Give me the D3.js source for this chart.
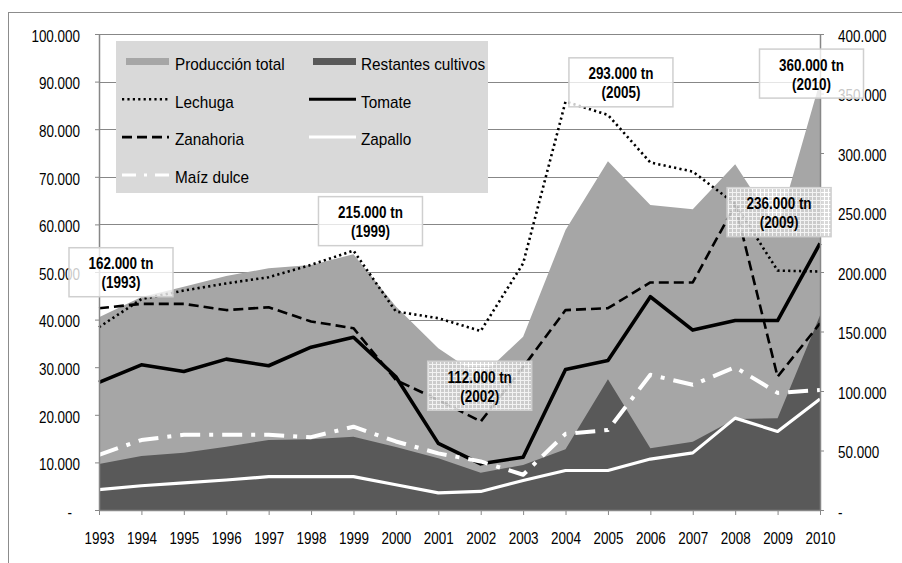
<!DOCTYPE html>
<html><head><meta charset="utf-8">
<script src="https://cdn.jsdelivr.net/npm/d3@7"></script>
<style>
html,body{margin:0;padding:0;background:#fff;}
svg{display:block;font-family:"Liberation Sans",Arial,sans-serif;}
</style></head>
<body><svg id="chart" width="902" height="563"></svg>
<script>
// ---------- data ----------
const years = [1993,1994,1995,1996,1997,1998,1999,2000,2001,2002,2003,2004,2005,2006,2007,2008,2009,2010];
const produccionTotal = [162000,179000,187700,196600,203100,205900,215000,171000,136000,112000,145600,235300,293000,256300,252700,290500,236000,360000];
const restantesCultivos = [38700,45400,48200,53200,58800,59400,61600,53000,43400,31400,37800,51000,109800,51800,57400,76500,77000,163500];
const lechuga   = [38400,44300,46100,47600,48900,51500,54500,41700,40300,37600,51800,85800,83000,73000,71100,64300,50300,50100];
const tomate    = [26800,30500,29100,31700,30300,34200,36300,28000,14000,9700,11100,29500,31400,44800,37800,39800,39800,56000];
const zanahoria = [42400,43300,43300,42000,42600,39600,38200,27300,23100,18600,30000,42000,42400,47800,47800,64100,28000,39200];
const zapallo   = [4300,5100,5700,6300,7000,7000,7000,5300,3600,3900,6200,8300,8300,10700,12000,19300,16500,23300];
const maizDulce = [11600,14700,15800,15800,15800,15300,17500,14400,11900,10200,7400,16000,16800,28400,26300,30000,24600,25200];
const leftTicks  = [0,10000,20000,30000,40000,50000,60000,70000,80000,90000,100000];
const rightTicks = [0,50000,100000,150000,200000,250000,300000,350000,400000];
const annotYears = [1993,1999,2002,2005,2009,2010];
const annotLabels = ["162.000 tn","215.000 tn","112.000 tn","293.000 tn","236.000 tn","360.000 tn"];

// ---------- layout ----------
const svg = d3.select("#chart");
const FONT = "'Liberation Sans',Arial,sans-serif";
const L = 99, R = 820, T = 34, B = 510;
const x  = d3.scaleLinear().domain([1993,2010]).range([L,R]);
const yL = d3.scaleLinear().domain([0,100000]).range([B,T]);
const yR = d3.scaleLinear().domain([0,400000]).range([B,T]);
const grid = "#878787";
const fmt = d => d === 0 ? "-" : d3.format(",")(d).replace(/,/g,".");
function condense(sel, f){
  sel.each(function(){
    const l = this.getComputedTextLength();
    d3.select(this).attr("textLength", l*f).attr("lengthAdjust","spacingAndGlyphs");
  });
}

// outer frame
svg.append("rect").attr("x",8.5).attr("y",12.5).attr("width",905).attr("height",570)
  .attr("fill","none").attr("stroke","#8c8c8c").attr("stroke-width",1);

// gridlines
svg.append("g").selectAll("line").data(leftTicks.filter(d=>d>0)).join("line")
  .attr("x1",L).attr("x2",R).attr("y1",d=>Math.round(yL(d))+0.5).attr("y2",d=>Math.round(yL(d))+0.5)
  .attr("stroke",grid).attr("stroke-width",1);

// areas
const areaR = vals => d3.area().x((d,i)=>x(years[i])).y0(B).y1(d=>yR(d))(vals);
svg.append("path").attr("d",areaR(produccionTotal)).attr("fill","#a6a6a6");
svg.append("path").attr("d",areaR(restantesCultivos)).attr("fill","#595959");

// line series
const lineL = vals => d3.line().x((d,i)=>x(years[i])).y(d=>yL(d))(vals);
const styles = {
  lechuga:   {stroke:"#000", w:2.6, dash:"2.2,3.2"},
  tomate:    {stroke:"#000", w:3.6, dash:null},
  zanahoria: {stroke:"#000", w:2.6, dash:"10,5"},
  zapallo:   {stroke:"#fff", w:3.2, dash:null},
  maiz:      {stroke:"#fff", w:4,   dash:"20,9,4,9"}
};
const series = [
  {vals:lechuga, s:styles.lechuga},
  {vals:tomate, s:styles.tomate},
  {vals:zanahoria, s:styles.zanahoria},
  {vals:zapallo, s:styles.zapallo},
  {vals:maizDulce, s:styles.maiz}
];
series.forEach(o=>{
  svg.append("path").attr("d",lineL(o.vals)).attr("fill","none")
    .attr("stroke",o.s.stroke).attr("stroke-width",o.s.w)
    .attr("stroke-dasharray",o.s.dash).attr("stroke-linejoin","round");
});

// axes
function styleAxis(g){
  g.selectAll(".domain").attr("stroke",grid).attr("stroke-width",1.5);
  g.selectAll(".tick line").attr("stroke",grid).attr("stroke-width",1);
  g.selectAll("text").attr("fill","#000").style("font-size","16px").style("font-family",FONT);
}
const gl = svg.append("g").attr("transform",`translate(${L},0)`)
  .call(d3.axisLeft(yL).tickValues(leftTicks).tickSize(4).tickSizeOuter(0).tickPadding(15).tickFormat(fmt));
styleAxis(gl);
gl.selectAll(".tick text").attr("dy","0.46em");
gl.selectAll(".tick text").filter(d=>d===0).attr("dx",-8);
const gr = svg.append("g").attr("transform",`translate(${R},0)`)
  .call(d3.axisRight(yR).tickValues(rightTicks).tickSize(4).tickSizeOuter(0).tickPadding(14).tickFormat(fmt));
styleAxis(gr);
gr.selectAll(".tick text").attr("dy","0.45em");
const gb = svg.append("g").attr("transform",`translate(0,${B})`)
  .call(d3.axisBottom(x).tickValues(years).tickSize(5).tickSizeOuter(0).tickPadding(17.3).tickFormat(d3.format("d")));
styleAxis(gb);
condense(gl.selectAll(".tick text"), 0.84);
condense(gr.selectAll(".tick text"), 0.84);
condense(gb.selectAll(".tick text"), 0.84);

// legend
const lg = svg.append("g");
lg.append("rect").attr("x",116).attr("y",41).attr("width",372).attr("height",152).attr("fill","#d9d9d9");
const legendItems = [
  {name:"Producción total", type:"rect", fill:"#a6a6a6"},
  {name:"Restantes cultivos", type:"rect", fill:"#595959"},
  {name:"Lechuga", type:"line", s:styles.lechuga},
  {name:"Tomate", type:"line", s:styles.tomate},
  {name:"Zanahoria", type:"line", s:styles.zanahoria},
  {name:"Zapallo", type:"line", s:styles.zapallo},
  {name:"Maíz dulce", type:"line", s:{stroke:"#fff", w:3, dash:"14,8,3,8"}}
];
legendItems.forEach((it,i)=>{
  const col = i%2, row = Math.floor(i/2);
  const sx = col ? 311 : 124, tx = col ? 361 : 175, cy = 61.5 + row*37.8;
  if(it.type==="rect"){
    lg.append("rect").attr("x",sx+2).attr("y",cy-3.5).attr("width",43).attr("height",7).attr("fill",it.fill);
  } else {
    lg.append("line").attr("x1",sx-2).attr("x2",sx+45).attr("y1",cy).attr("y2",cy)
      .attr("stroke",it.s.stroke).attr("stroke-width",Math.min(it.s.w,3))
      .attr("stroke-dasharray",it.s.dash);
  }
  lg.append("text").attr("x",tx).attr("y",cy+8.3)
    .style("font-size","17px").style("font-family",FONT).attr("fill","#000").text(it.name);
});
condense(lg.selectAll("text"), 0.9);

// pattern for grid-filled annotation boxes
const defs = svg.append("defs");
const pat = defs.append("pattern").attr("id","gridpat").attr("patternUnits","userSpaceOnUse")
  .attr("width",4).attr("height",4);
pat.append("rect").attr("width",4).attr("height",4).attr("fill","#d2d2d2");
pat.append("path").attr("d","M0,0.5H4M0.5,0V4").attr("stroke","#fff").attr("stroke-width",1);

// annotations
const annotOffsets = [[22,-45],[17,-33],[-1,9],[13,-79],[1.5,-17],[-8.5,-8]];
const patterned = [false,false,true,false,true,false];
const ag = svg.append("g");
annotYears.forEach((yr,i)=>{
  const idx = years.indexOf(yr);
  const cx = x(yr) + annotOffsets[i][0];
  const cy = yR(produccionTotal[idx]) + annotOffsets[i][1];
  const g = ag.append("g");
  g.append("rect").attr("x",cx-52).attr("y",cy-24.5).attr("width",104).attr("height",49)
    .attr("fill",patterned[i] ? "url(#gridpat)" : "#fff")
    .attr("fill-opacity",patterned[i] ? 0.85 : 0.78)
    .attr("stroke","#cfcfcf").attr("stroke-width",1.5);
  g.append("text").attr("x",cx).attr("y",cy-8.5+5.6).attr("text-anchor","middle")
    .style("font-size","16px").style("font-weight","bold").style("font-family",FONT).attr("fill","#000").text(annotLabels[i]);
  g.append("text").attr("x",cx).attr("y",cy+10.5+5.6).attr("text-anchor","middle")
    .style("font-size","16px").style("font-weight","bold").style("font-family",FONT).attr("fill","#000").text("("+yr+")");
});
condense(ag.selectAll("text"), 0.84);
</script>
</body></html>
